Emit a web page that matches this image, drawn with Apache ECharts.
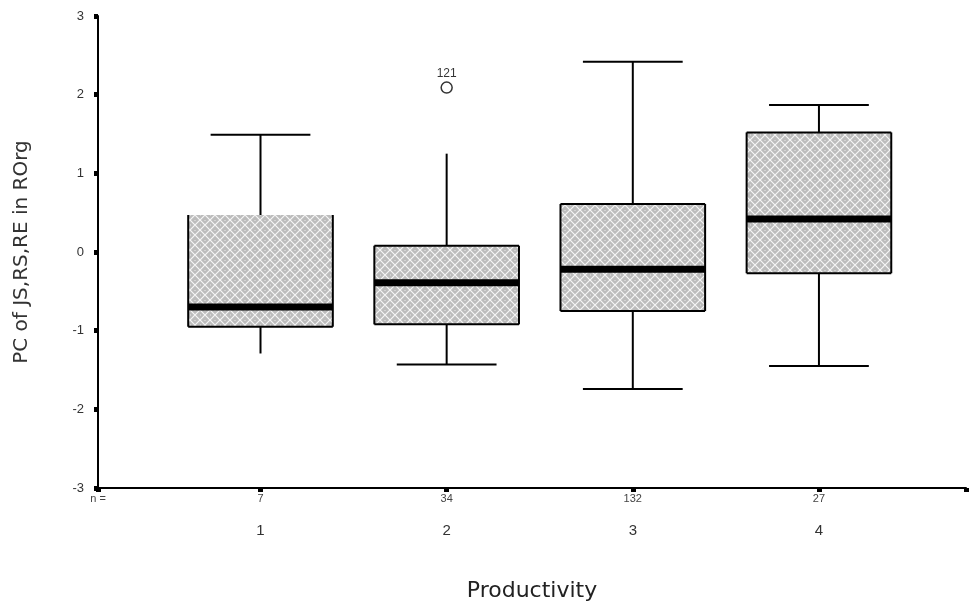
<!DOCTYPE html>
<html>
<head>
<meta charset="utf-8">
<script src="https://cdn.jsdelivr.net/npm/echarts@6/dist/echarts.min.js"></script>
<style>
html,body{margin:0;padding:0;background:#fff;}
#chart{width:969px;height:607px;}
</style>
</head>
<body>
<div id="chart"></div>
<script>
// ---- data ----
const categories = [1, 2, 3, 4];
const nCounts = ['7', '34', '132', '27'];
const whiskerLow = [-1.29, -1.43, -1.74, -1.45];
const q1Values = [-0.95, -0.92, -0.75, -0.27];
const medians = [-0.70, -0.39, -0.22, 0.42];
const q3Values = [0.47, 0.08, 0.61, 1.52];
const whiskerHigh = [1.49, 1.25, 2.42, 1.87];
const outliers = [[2, 2.09, '121']];
const yTicks = [-3, -2, -1, 0, 1, 2, 3];

// ---- pattern tile ----
function makePattern() {
  const c = document.createElement('canvas');
  c.width = 10; c.height = 10;
  const g = c.getContext('2d');
  g.fillStyle = '#bcbcbc';
  g.fillRect(0, 0, 10, 10);
  g.strokeStyle = '#f6f6f6';
  g.lineWidth = 1.2;
  g.beginPath();
  g.moveTo(-1, -1); g.lineTo(11, 11);
  g.moveTo(-1, 11); g.lineTo(11, -1);
  g.stroke();
  g.fillStyle = '#d4d4d4';
  g.fillRect(4, 0, 2, 1);
  g.fillRect(0, 4, 1, 2);
  return c;
}
const pattern = { image: makePattern(), repeat: 'repeat' };

const boxData = categories.map((c, i) => [c, whiskerLow[i], q1Values[i], medians[i], q3Values[i], whiskerHigh[i]]);

const BOX_W = 0.777, CAP_W = 0.536;
const skipTopEdge = { 0: true };
const skipBottomCap = { 0: true };
const skipTopCap = { 1: true };

function renderBox(params, api) {
  const i = params.dataIndex;
  const x = api.value(0);
  const cx = api.coord([x, 0])[0];
  const yLo = api.coord([x, api.value(1)])[1];
  const yQ1 = api.coord([x, api.value(2)])[1];
  const yMed = api.coord([x, api.value(3)])[1];
  const yQ3 = api.coord([x, api.value(4)])[1];
  const yHi = api.coord([x, api.value(5)])[1];
  const hw = api.size([BOX_W, 0])[0] / 2;
  const cw = api.size([CAP_W, 0])[0] / 2;
  const ls = { stroke: '#000', lineWidth: 2 };
  const line = (x1, y1, x2, y2) => ({ type: 'line', shape: { x1, y1, x2, y2 }, style: ls });
  const ch = [];
  ch.push({ type: 'rect', shape: { x: cx - hw, y: yQ3, width: 2 * hw, height: yQ1 - yQ3 }, style: { fill: pattern } });
  ch.push(line(cx, yQ3, cx, yHi));
  if (!skipTopCap[i]) ch.push(line(cx - cw, yHi, cx + cw, yHi));
  ch.push(line(cx, yQ1, cx, yLo));
  if (!skipBottomCap[i]) ch.push(line(cx - cw, yLo, cx + cw, yLo));
  ch.push(line(cx - hw, yQ3, cx - hw, yQ1));
  ch.push(line(cx + hw, yQ3, cx + hw, yQ1));
  if (!skipTopEdge[i]) ch.push(line(cx - hw, yQ3, cx + hw, yQ3));
  ch.push(line(cx - hw, yQ1, cx + hw, yQ1));
  ch.push({ type: 'rect', shape: { x: cx - hw, y: yMed - 3.5, width: 2 * hw, height: 7 }, style: { fill: '#000' } });
  return { type: 'group', children: ch };
}

const X_MIN = 0.127, X_MAX = 4.79;
const chart = echarts.init(document.getElementById('chart'), null, { renderer: 'canvas' });
const labelFont = 'Liberation Sans, Arial, sans-serif';

chart.setOption({
  animation: false,
  backgroundColor: '#fff',
  grid: { left: 98, right: 0, top: 16, bottom: 114 },
  xAxis: [
    {
      type: 'value', min: X_MIN, max: X_MAX, splitLine: { show: false },
      axisLine: { show: true, onZero: false, lineStyle: { color: '#000', width: 2 } },
      axisTick: { show: true, length: 4, inside: false, lineStyle: { color: '#000', width: 5 } },
      axisLabel: {
        show: true, margin: 5, color: '#444', fontSize: 11, fontFamily: labelFont,
        showMinLabel: true, showMaxLabel: true,
        formatter: v => {
          if (Math.abs(v - X_MIN) < 1e-6) return 'n =';
          const k = Math.round(v);
          if (Math.abs(v - k) < 1e-6 && k >= 1 && k <= nCounts.length) return nCounts[k - 1];
          return '';
        }
      }
    },
    {
      type: 'value', min: X_MIN, max: X_MAX, position: 'bottom', splitLine: { show: false },
      axisLine: { show: false, onZero: false }, axisTick: { show: false },
      axisLabel: {
        show: true, margin: 35, color: '#333', fontSize: 15, fontFamily: labelFont,
        formatter: v => {
          const k = Math.round(v);
          if (Math.abs(v - k) < 1e-6 && categories.indexOf(k) >= 0) return String(k);
          return '';
        }
      },
      name: 'Productivity', nameLocation: 'middle', nameGap: 92,
      nameTextStyle: { fontSize: 22, color: '#222', fontFamily: 'DejaVu Sans, sans-serif' }
    }
  ],
  yAxis: {
    type: 'value', min: yTicks[0], max: yTicks[yTicks.length - 1], interval: 1,
    splitLine: { show: false },
    axisLine: { show: true, onZero: false, lineStyle: { color: '#000', width: 2 } },
    axisTick: { show: true, length: 4, lineStyle: { color: '#000', width: 5 } },
    axisLabel: { margin: 14, color: '#333', fontSize: 13, fontFamily: labelFont },
    name: 'PC of JS,RS,RE in ROrg', nameLocation: 'middle', nameGap: 66, nameRotate: 90,
    nameTextStyle: { fontSize: 20, color: '#333', fontFamily: 'DejaVu Sans, sans-serif' }
  },
  series: [
    {
      type: 'custom', xAxisIndex: 0, yAxisIndex: 0, data: boxData,
      renderItem: renderBox, encode: { x: 0, y: [1, 2, 3, 4, 5] }, clip: false
    },
    {
      type: 'scatter', xAxisIndex: 0, yAxisIndex: 0,
      data: outliers.map(o => ({ value: [o[0], o[1]], label: { formatter: o[2] } })),
      symbol: 'circle', symbolSize: 11,
      itemStyle: { color: '#fff', borderColor: '#000', borderWidth: 1.5 },
      label: { show: true, position: 'top', distance: 2, color: '#000', fontSize: 12, fontFamily: labelFont }
    }
  ]
});
</script>
</body>
</html>
